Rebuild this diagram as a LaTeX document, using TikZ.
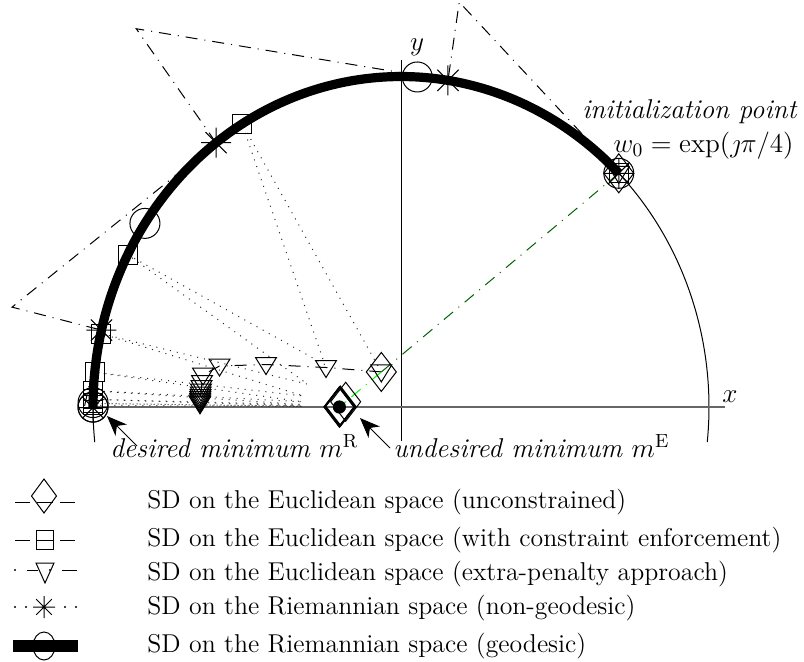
\RequirePackage{fix-cm}
\documentclass[tikz,border=0pt]{standalone}
\usetikzlibrary{arrows.meta}
\definecolor{dgreen}{rgb}{0,0.39,0}
\definecolor{lgreen}{rgb}{0,1,0}
\tikzset{
  lbl/.style={font=\fontsize{13.6}{16}\selectfont, inner sep=0pt},
  leg/.style={font=\fontsize{12.9}{15}\selectfont, inner sep=0pt},
  thinl/.style={line width=0.5pt},
  dashdotl/.style={line width=0.5pt, dash pattern=on 6pt off 3.5pt on 0.5pt off 3.5pt},
  dotl/.style={line width=0.5pt, dash pattern=on 0.5pt off 3pt, black!85},
  geo/.style={line width=4.6pt},
  data/.style={shift={(401,407)}, x=154pt, y=165.25pt},
  arr/.style={line width=0.5pt, -{Stealth[length=10pt, width=8pt, inset=3pt]}},
  pics/mcirc/.style={code={\draw[line width=0.5pt] (0pt,0pt) circle[radius=7.5pt];}},
  pics/mdiam/.style={code={\draw[line width=0.5pt] (-7.5pt,0pt) -- (0pt,9.75pt) -- (7.5pt,0pt) -- (0pt,-9.75pt) -- cycle;}},
  pics/mdiamthick/.style={code={\draw[line width=0.9pt] (-7.5pt,0pt) -- (0pt,9.75pt) -- (7.5pt,0pt) -- (0pt,-9.75pt) -- cycle;}},
  pics/msq/.style={code={\draw[line width=0.5pt] (-4.75pt,-4.75pt) rectangle (4.75pt,4.75pt);}},
  pics/mtri/.style={code={\draw[line width=0.5pt] (-5.25pt,3.5pt) -- (5.25pt,3.5pt) -- (0pt,-5pt) -- cycle;}},
  pics/mast/.style={code={\draw[line width=0.5pt] (-7.5pt,0pt) -- (7.5pt,0pt) (0pt,-7.5pt) -- (0pt,7.5pt) (-5.3pt,-5.3pt) -- (5.3pt,5.3pt) (-5.3pt,5.3pt) -- (5.3pt,-5.3pt);}},
}
\begin{document}
\begin{tikzpicture}[x=0.5pt,y=-0.5pt]
\useasboundingbox (0,0) rectangle (804,661);
% ---------- data coordinates ----------
\begin{scope}[data]
  \draw[thinl] plot[domain=-6.1:186.1, samples=150, smooth] ({cos(\x)},{sin(\x)});
  % non-geodesic Riemannian (asterisks)
  \coordinate (A0) at (0.7071,0.7071);
  \coordinate (P1) at (0.1891,1.2251);
  \coordinate (A1) at (0.1525,0.9883);
  \coordinate (P2) at (-0.8596,1.1445);
  \coordinate (A2) at (-0.6005,0.7996);
  \coordinate (P3) at (-1.2628,0.3022);
  \coordinate (A3) at (-0.9725,0.2327);
  \coordinate (P4) at (-1.0286,-0.0018);
  \coordinate (A4) at (-1,-0.0018);
  % Euclidean with constraint enforcement (squares)
  \coordinate (E1) at (-0.0639,0.1061);
  \coordinate (S1) at (-0.5159,0.8566);
  \coordinate (E2) at (-0.2474,0.1285);
  \coordinate (S2) at (-0.8874,0.4609);
  \coordinate (E3) at (-0.3031,0.0691);
  \coordinate (S3) at (-0.9750,0.2223);
  \coordinate (E4) at (-0.31625,0.03335);
  \coordinate (S4) at (-0.9945,0.1049);
  \coordinate (E5) at (-0.31918,0.01573);
  \coordinate (S5) at (-0.9988,0.04922);
  \coordinate (E6) at (-0.31982,0.007383);
  \coordinate (S6) at (-0.99973,0.02308);
  \coordinate (E7) at (-0.31996,0.003462);
  \coordinate (S7) at (-0.99994,0.01082);
  \coordinate (E8) at (-0.31999,0.001623);
  \coordinate (S8) at (-0.99999,0.00507);
  % unconstrained (diamonds)
  \coordinate (D2) at (-0.1796,0.0159);
  \coordinate (D3) at (-0.1969,0.0024);
  \coordinate (D4) at (-0.1995,0.0004);
  \coordinate (mE) at (-0.2,0);
  % geodesic (circles)
  \coordinate (G1) at ({cos(86.97)},{sin(86.97)});
  \coordinate (G2) at ({cos(146.245)},{sin(146.245)});
  \coordinate (G3) at ({cos(179.235)},{sin(179.235)});
  \coordinate (G4) at ({cos(180.03)},{sin(180.03)});
  \coordinate (G5) at (-1,0);
\end{scope}
% extra-penalty (triangles), pixel coordinates
\coordinate (T1) at (381.3,371.9);
\coordinate (T2) at (326,367.5);
\coordinate (T3) at (266,364.5);
\coordinate (T4) at (219.5,366);
\coordinate (T5) at (203,375);
\coordinate (T6) at (202,382.5);
\coordinate (T7) at (201.5,387.5);
\coordinate (T8) at (201,391);
\coordinate (T9) at (200.7,394);
\coordinate (T10) at (200.5,396.5);
\coordinate (T11) at (200.3,398.5);
\coordinate (T12) at (200.2,400.3);
\coordinate (T13) at (200.1,401.8);
\coordinate (T14) at (200,403);
\coordinate (T15) at (200,403.8);

% ---------- axes ----------
\draw[thinl] (401,441) -- (401,60);
\draw[line width=1pt, black!60] (93,407) -- (725,407);

% ---------- dotted (constraint enforcement) ----------
\draw[dotl] (E1) -- (S1) -- (E2) -- (S2) -- (E3) -- (S3) -- (E4) -- (S4) -- (E5) -- (S5) -- (E6) -- (S6) -- (E7) -- (S7) -- (E8) -- (S8);

% ---------- extra-penalty line ----------
\draw[dashdotl] (T1) -- (T2) -- (T3) -- (T4) -- (T5) -- (T6) -- (T7) -- (T8) -- (T9) -- (T10) -- (T11) -- (T12) -- (T13) -- (T14) -- (T15);

% ---------- non-geodesic line ----------
\draw[dashdotl] (A0) -- (P1) -- (A1) -- (P2) -- (A2) -- (P3) -- (A3) -- (P4) -- (A4);

% ---------- unconstrained (green) ----------
\draw[dashdotl, dgreen] (A0) -- (E1);
\draw[dashdotl, lgreen] (E1) -- (D2);
\draw[dashdotl, lgreen] (D2) -- (D3);

% ---------- geodesic ----------
\begin{scope}[data]
  \draw[geo] plot[domain=45:180, samples=100, smooth] ({cos(\x)},{sin(\x)});
\end{scope}

% ---------- markers ----------
\foreach \p in {A0,G1,G2,G3,G4,G5} \path (\p) pic{mcirc};
\foreach \p in {A0,A1,A2,A3,A4} \path (\p) pic{mast};
\foreach \p in {A0,S1,S2,S3,S4,S5,S6,S7,S8} \path (\p) pic{msq};
\foreach \p in {A0,T1,T2,T3,T4,T5,T6,T7,T8,T9,T10,T11,T12,T13,T14,T15} \path (\p) pic{mtri};
\foreach \p in {A0,E1,D2} \path (\p) pic{mdiam};
\foreach \p in {D3,D4,mE} \path (\p) pic{mdiamthick};
\fill (mE) circle[radius=3.3pt];

% ---------- labels ----------
\node[lbl, anchor=base] (ylab) at (417,50) {$y$};
\node[lbl, anchor=base] (xlab) at (730,402) {$x$};
\node[lbl, anchor=base east] (init1) at (798,118) {\textit{initialization point}};
\node[lbl, anchor=base east] (init2) at (794,152) {$w_0=\exp(\jmath\pi/4)$};
\node[lbl, anchor=base west] (desR) at (110,457) {\textit{desired minimum} $m^{\mathrm{R}}$};
\node[lbl, anchor=base west] (undE) at (393,457) {\textit{undesired minimum} $m^{\mathrm{E}}$};
\coordinate (arRs) at (137,446);
\coordinate (arRe) at (107,416);
\coordinate (arEs) at (390,448);
\coordinate (arEe) at (360,418);
\draw[arr] (arRs) -- (arRe);
\draw[arr] (arEs) -- (arEe);

% ---------- legend ----------
% row 1
\draw[thinl] (15,502) -- (30,502) (37,502) -- (53,502) (60,502) -- (75,502);
\draw[thinl] (44,479) -- (56.5,496) -- (44,513) -- (31.5,496) -- cycle;
% row 2
\draw[thinl] (15,540) -- (30,540) (37,540) -- (53,540) (60,540) -- (75,540);
\draw[thinl] (36.5,530) rectangle (53.5,549);
% row 3
\fill (15,570) circle[radius=0.6pt];
\fill (50,570) circle[radius=0.6pt];
\draw[thinl] (27,570) -- (38,570) (62,570) -- (77,570);
\draw[thinl] (36,563) -- (54,563) -- (45,583) -- cycle;
% row 4
\foreach \xx in {15,26,44,65,76} \fill (\xx,607) circle[radius=0.6pt];
\draw[thinl] (33,607) -- (55,607) (44,596) -- (44,618) (36.2,599.2) -- (51.8,614.8) (36.2,614.8) -- (51.8,599.2);
% row 5
\fill (13,640) rectangle (78,652);
\draw[thinl] (44,646) ellipse[x radius=5.5pt, y radius=7pt];
% texts
\node[leg, anchor=base west] (L1) at (147,508) {SD on the Euclidean space (unconstrained)};
\node[leg, anchor=base west] (L2) at (147,546) {SD on the Euclidean space (with constraint enforcement)};
\node[leg, anchor=base west] (L3) at (147,580) {SD on the Euclidean space (extra-penalty approach)};
\node[leg, anchor=base west] (L4) at (147,614) {SD on the Riemannian space (non-geodesic)};
\node[leg, anchor=base west] (L5) at (147,652) {SD on the Riemannian space (geodesic)};
\end{tikzpicture}
\end{document}
